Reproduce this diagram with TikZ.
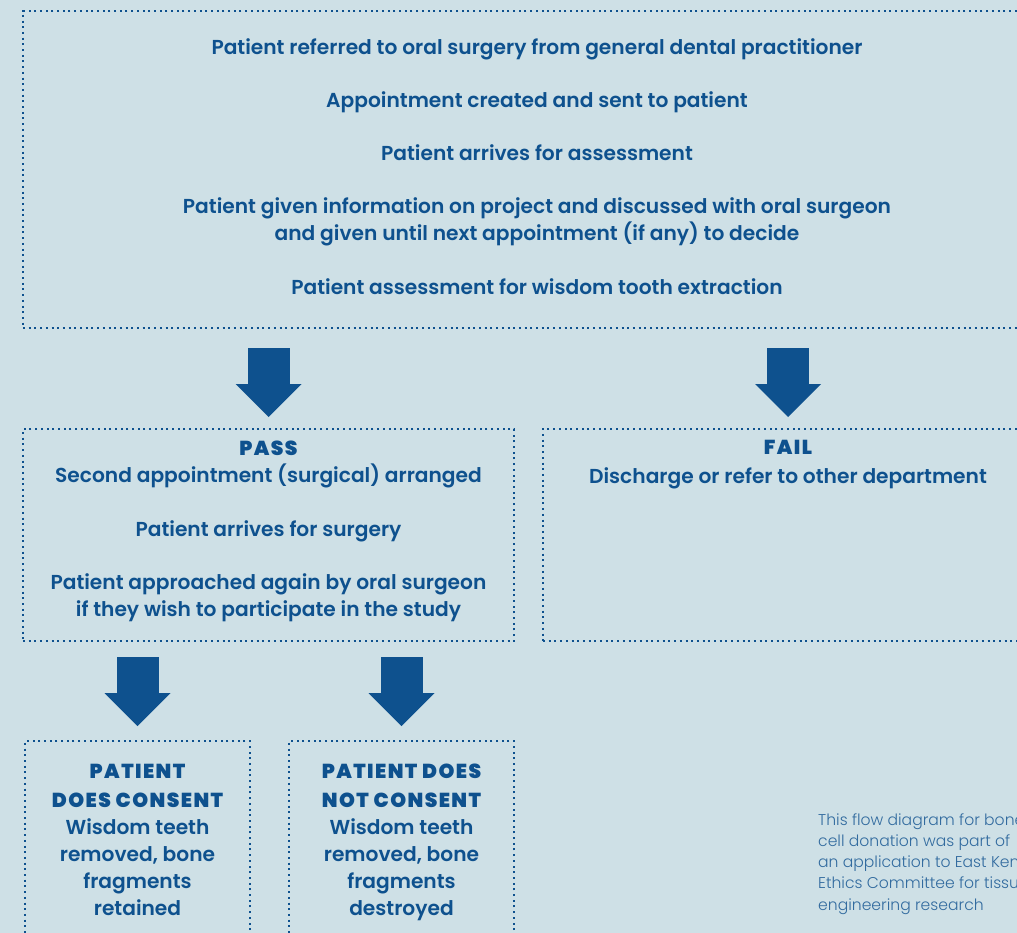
\documentclass[tikz,border=0pt]{standalone}
\usepackage{fontspec}
\setmainfont{Poppins SemiBold}
\newfontfamily\headfont{Poppins Black}[LetterSpace=7]
\newfontfamily\notefont{Poppins Light}
\usetikzlibrary{arrows.meta,positioning}

\definecolor{paper}{HTML}{CEE0E6}
\definecolor{ink}{HTML}{0E518E}

\begin{document}
\begin{tikzpicture}[x=1pt,y=-1pt,
  box/.style={rectangle,draw=ink,line width=2pt,dash pattern=on 2pt off 3.7pt,
    inner sep=0pt,anchor=north west},
  txt/.style={text=ink,align=center,inner sep=0pt,anchor=north,
    font=\fontsize{20.2}{27}\selectfont},
  down/.style={draw=ink,line width=42pt,
    -{Triangle[length=33pt,width=66pt,line width=0pt]}}]

  \useasboundingbox (0,0) rectangle (1017,933);
  \fill[paper] (0,0) rectangle (1017,933);
  \clip (0,0) rectangle (1017,933);

  % dotted frames
  \node[box,minimum width=1028pt,minimum height=317pt] (top) at (22,10) {};
  \node[box,minimum width=491pt,minimum height=212pt] (pass) at (22,428) {};
  \node[box,minimum width=490pt,minimum height=212pt] (fail) at (542,428) {};
  \node[box,minimum width=225pt,minimum height=215pt] (yes) at (24,740) {};
  \node[box,minimum width=225pt,minimum height=215pt] (no) at (288,740) {};

  % texts
  \node[txt,below=28pt of top.north] (toptxt) {%
    Patient referred to oral surgery from general dental practitioner\\[26.3pt]
    Appointment created and sent to patient\\[26.3pt]
    Patient arrives for assessment\\[26.3pt]
    Patient given information on project and discussed with oral surgeon\\
    and given until next appointment (if any) to decide\\[26.3pt]
    Patient assessment for wisdom tooth extraction};
  \node[txt,below=13pt of pass.north] (passtxt) {%
    {\headfont PASS}\\
    Second appointment (surgical) arranged\\[26.3pt]
    Patient arrives for surgery\\[26.3pt]
    Patient approached again by oral surgeon\\
    if they wish to participate in the study};
  \node[txt,below=12pt of fail.north] (failtxt) {%
    {\headfont FAIL}\\[2pt]
    Discharge or refer to other department};
  \node[txt,below=24pt of yes.north] (yestxt) {%
    {\headfont PATIENT}\\[2pt]
    {\headfont DOES CONSENT}\\
    Wisdom teeth\\
    removed, bone\\
    fragments\\
    retained};
  \node[txt,below=24pt of no.north] (notxt) {%
    {\headfont PATIENT DOES}\\[2pt]
    {\headfont NOT CONSENT}\\
    Wisdom teeth\\
    removed, bone\\
    fragments\\
    destroyed};

  \node[text=ink!85,align=left,inner sep=0pt,anchor=north west,
    font=\fontsize{15.6}{21.3}\notefont] (note) at (818,813) {%
    This flow diagram for bone\\
    cell donation was part of\\
    an application to East Kent\\
    Ethics Committee for tissue\\
    engineering research};

  % block arrows
  \draw[down,shorten <=19pt,shorten >=11pt] (pass.north |- top.south) -- (pass.north);
  \draw[down,shorten <=19pt,shorten >=11pt] (fail.north |- top.south) -- (fail.north);
  \draw[down,shorten <=15pt,shorten >=14pt] (yes.north |- pass.south) -- (yes.north);
  \draw[down,shorten <=15pt,shorten >=14pt] (no.north |- pass.south) -- (no.north);
\end{tikzpicture}
\end{document}
